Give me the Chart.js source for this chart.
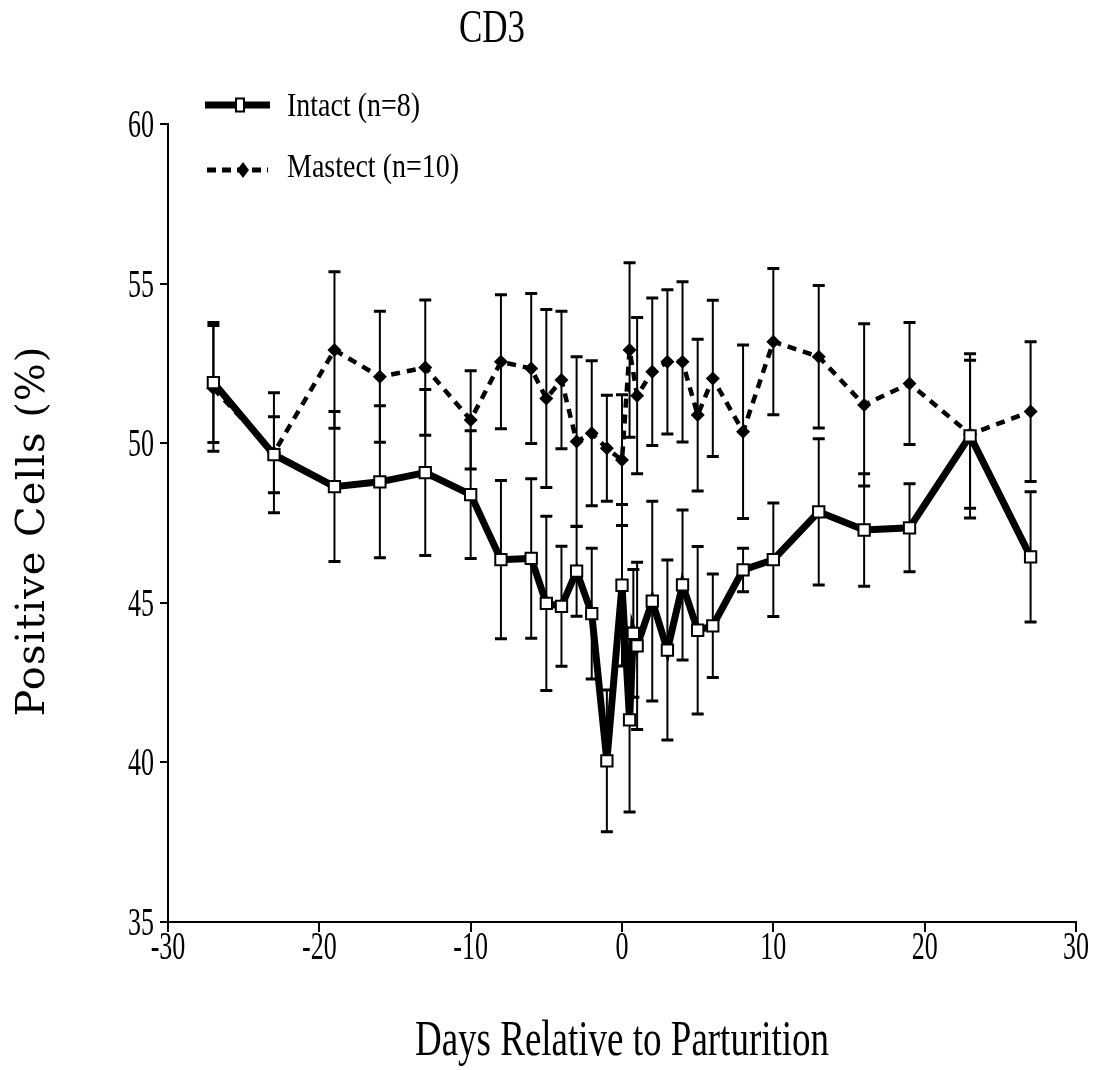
<!DOCTYPE html>
<html>
<head>
<meta charset="utf-8">
<script src="https://cdn.jsdelivr.net/npm/chart.js@4/dist/chart.umd.min.js"></script>
<style>
html,body{margin:0;padding:0;background:#fff;}
#wrap{width:1098px;height:1070px;position:relative;}
</style>
</head>
<body>
<div id="wrap"><canvas id="c" width="1098" height="1070"></canvas></div>
<script>
// ---- text ----
const chartTitle = 'CD3';
const xAxisTitle = 'Days Relative to Parturition';
const yAxisTitle = 'Positive Cells (%)';

// ---- ticks ----
const xTickValues = [-30, -20, -10, 0, 10, 20, 30];
const xTickLabels = ['-30', '-20', '-10', '0', '10', '20', '30'];
const yTickValues = [35, 40, 45, 50, 55, 60];
const yTickLabels = ['35', '40', '45', '50', '55', '60'];

// ---- Intact series ----
const intactLabel = 'Intact (n=8)';
const intactDays = [-27, -23, -19, -16, -13, -10, -8, -6, -5, -4, -3, -2, -1, 0, 0.5, 0.75, 1, 2, 3, 4, 5, 6, 8, 10, 13, 16, 19, 23, 27];
const intactMeans = [51.90, 49.64, 48.64, 48.79, 49.08, 48.39, 46.35, 46.39, 44.98, 44.89, 45.99, 44.66, 40.05, 45.55, 41.33, 44.04, 43.65, 45.05, 43.52, 45.56, 44.14, 44.28, 46.03, 46.35, 47.85, 47.28, 47.35, 50.23, 46.44];
const intactErrors = [1.88, 1.19, 2.35, 2.38, 2.60, 2.00, 2.48, 2.50, 2.73, 1.88, 1.41, 2.05, 2.22, 2.53, 2.88, 2.00, 2.62, 3.13, 2.82, 2.35, 2.62, 1.62, 0.68, 1.78, 2.29, 1.76, 1.38, 2.57, 2.04];

// ---- Mastect series ----
const mastectLabel = 'Mastect (n=10)';
const mastectDays = [-27, -23, -19, -16, -13, -10, -8, -6, -5, -4, -3, -2, -1, 0, 0.5, 1, 2, 3, 4, 5, 6, 8, 10, 13, 16, 19, 23, 27];
const mastectMeans = [51.72, 49.70, 52.92, 52.08, 52.37, 50.73, 52.55, 52.34, 51.40, 51.98, 50.05, 50.31, 49.84, 49.47, 52.92, 51.49, 52.24, 52.55, 52.55, 50.88, 52.03, 50.36, 53.18, 52.71, 51.20, 51.87, 50.28, 50.99];
const mastectErrors = [1.97, 1.88, 2.45, 2.05, 2.12, 1.54, 2.10, 2.35, 2.79, 2.15, 2.66, 2.27, 1.66, 2.05, 2.73, 2.45, 2.31, 2.26, 2.51, 2.38, 2.45, 2.72, 2.29, 2.23, 2.54, 1.91, 2.32, 2.19];

function drawText(ctx, text, x, y, o) {
  ctx.save();
  ctx.font = o.font;
  ctx.fillStyle = '#000';
  ctx.textAlign = o.align || 'left';
  ctx.textBaseline = 'alphabetic';
  if ('letterSpacing' in ctx) ctx.letterSpacing = (o.spacing || 0) + 'px';
  ctx.translate(x, y);
  if (o.rotate) ctx.rotate(o.rotate);
  ctx.scale(o.sx || 1, o.sy || 1);
  ctx.fillText(text, 0, 0);
  ctx.restore();
}

const errorBarPlugin = {
  id: 'errorBars',
  beforeDatasetsDraw(chart) {
    const ctx = chart.ctx, xs = chart.scales.x, ys = chart.scales.y;
    ctx.save();
    ctx.strokeStyle = '#000';
    chart.data.datasets.forEach(ds => {
      ds.data.forEach((pt, i) => {
        const e = ds.errors[i];
        const px = xs.getPixelForValue(pt.x);
        const top = ys.getPixelForValue(pt.y + e);
        const bot = ys.getPixelForValue(pt.y - e);
        ctx.lineWidth = 2;
        ctx.beginPath(); ctx.moveTo(px, top); ctx.lineTo(px, bot); ctx.stroke();
        ctx.lineWidth = 3;
        ctx.beginPath();
        ctx.moveTo(px - 6, top); ctx.lineTo(px + 6, top);
        ctx.moveTo(px - 6, bot); ctx.lineTo(px + 6, bot);
        ctx.stroke();
      });
    });
    ctx.restore();
  }
};

const textPlugin = {
  id: 'texts',
  afterDraw(chart) {
    const ctx = chart.ctx, xs = chart.scales.x, ys = chart.scales.y;
    const serif = '"Liberation Serif", "Times New Roman", serif';
    // title
    drawText(ctx, chartTitle, 492, 42, {font: '35px ' + serif, align: 'center', sy: 1.34});
    // tick labels
    xTickValues.forEach((v, i) => {
      drawText(ctx, xTickLabels[i], xs.getPixelForValue(v), 959, {font: '26px ' + serif, align: 'center', sy: 1.5});
    });
    yTickValues.forEach((v, i) => {
      drawText(ctx, yTickLabels[i], 154, ys.getPixelForValue(v) + 13, {font: '26px ' + serif, align: 'right', sy: 1.5});
    });
    // axis titles
    drawText(ctx, xAxisTitle, (chart.chartArea.left + chart.chartArea.right) / 2, 1055, {font: '37px ' + serif, align: 'center', sy: 1.35});
    drawText(ctx, yAxisTitle, 44, 531, {font: '40px "DejaVu Serif", serif', align: 'center', rotate: -Math.PI / 2, spacing: 1});
    // legend
    ctx.save();
    ctx.strokeStyle = '#000';
    ctx.lineWidth = 7;
    ctx.beginPath(); ctx.moveTo(205, 105); ctx.lineTo(270, 105); ctx.stroke();
    ctx.fillStyle = '#fff'; ctx.lineWidth = 2;
    ctx.fillRect(236, 98.5, 8, 13); ctx.strokeRect(236, 98.5, 8, 13);
    ctx.setLineDash([9, 6]); ctx.lineWidth = 5;
    ctx.beginPath(); ctx.moveTo(207, 170); ctx.lineTo(268, 170); ctx.stroke();
    ctx.setLineDash([]);
    ctx.fillStyle = '#000';
    ctx.beginPath(); ctx.moveTo(243, 162); ctx.lineTo(249, 170); ctx.lineTo(243, 178); ctx.lineTo(237, 170); ctx.closePath(); ctx.fill();
    ctx.restore();
    drawText(ctx, intactLabel, 287, 116, {font: '28px ' + serif, sy: 1.19});
    drawText(ctx, mastectLabel, 287, 177, {font: '28px ' + serif, sy: 1.19});
  }
};

new Chart(document.getElementById('c'), {
  type: 'line',
  data: {
    datasets: [
      {
        label: intactLabel,
        data: intactDays.map((d, i) => ({x: d, y: intactMeans[i]})),
        errors: intactErrors,
        borderColor: '#000',
        borderWidth: 7,
        tension: 0,
        fill: false,
        pointStyle: 'rect',
        pointRadius: 8,
        pointBackgroundColor: '#fff',
        pointBorderColor: '#000',
        pointBorderWidth: 2
      },
      {
        label: mastectLabel,
        data: mastectDays.map((d, i) => ({x: d, y: mastectMeans[i]})),
        errors: mastectErrors,
        borderColor: '#000',
        borderWidth: 4.5,
        borderDash: [9, 7],
        tension: 0,
        fill: false,
        pointStyle: 'rectRot',
        pointRadius: 7,
        pointBackgroundColor: '#000',
        pointBorderColor: '#000',
        pointBorderWidth: 0
      }
    ]
  },
  options: {
    responsive: false,
    animation: false,
    events: [],
    devicePixelRatio: 1,
    layout: {padding: {left: 0, right: 22, top: 124, bottom: 0}},
    plugins: {legend: {display: false}, tooltip: {enabled: false}, title: {display: false}},
    scales: {
      x: {
        type: 'linear', min: -30, max: 30,
        afterBuildTicks: s => { s.ticks = xTickValues.map(v => ({value: v})); },
        afterFit: s => { s.height = 148; },
        ticks: {display: false},
        grid: {display: true, drawOnChartArea: false, drawTicks: true, tickLength: 10, color: '#000', lineWidth: 2},
        border: {display: true, color: '#000', width: 2}
      },
      y: {
        type: 'linear', min: 35, max: 60,
        afterBuildTicks: s => { s.ticks = yTickValues.map(v => ({value: v})); },
        afterFit: s => { s.width = 168; },
        ticks: {display: false},
        grid: {display: true, drawOnChartArea: false, drawTicks: true, tickLength: 8, color: '#000', lineWidth: 2},
        border: {display: true, color: '#000', width: 2}
      }
    }
  },
  plugins: [errorBarPlugin, textPlugin]
});
</script>
</body>
</html>
